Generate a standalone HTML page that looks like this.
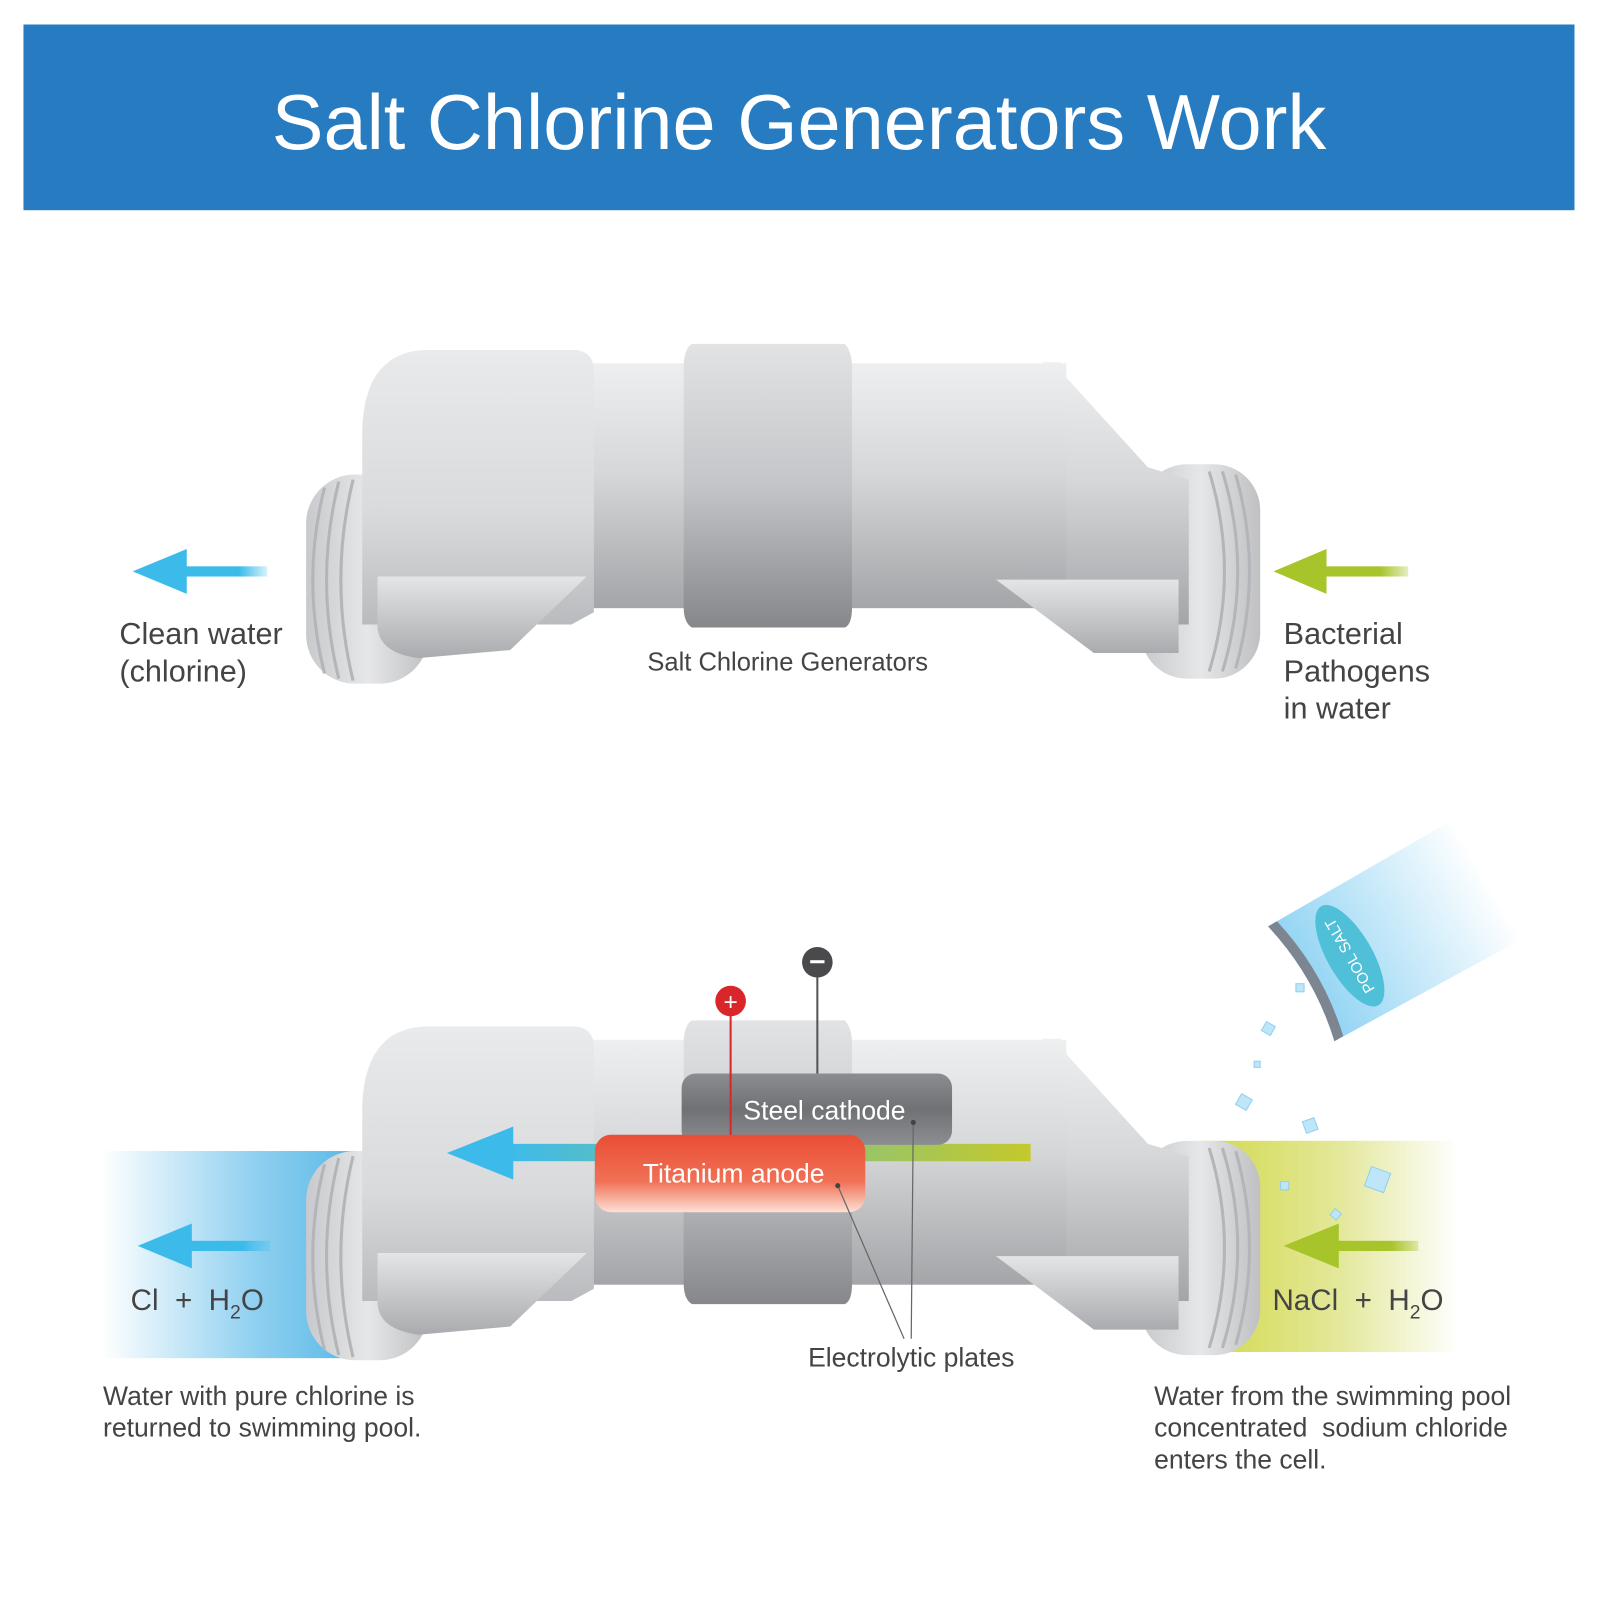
<!DOCTYPE html>
<html><head><meta charset="utf-8"><style>
html,body{margin:0;padding:0;background:#fff}
svg{display:block}
text{font-family:"Liberation Sans",Arial,sans-serif}
</style></head><body>
<svg width="1600" height="1600" viewBox="0 0 1568 1568" xmlns="http://www.w3.org/2000/svg">
<defs>
<linearGradient id="gCap" x1="0" y1="0" x2="0" y2="1"><stop offset="0" stop-color="#e9eaec"/><stop offset="0.6" stop-color="#d9dadc"/><stop offset="1" stop-color="#b9bbbe"/></linearGradient>
<linearGradient id="gBody" x1="0" y1="0" x2="0" y2="1"><stop offset="0" stop-color="#eeeff0"/><stop offset="0.45" stop-color="#d6d7d9"/><stop offset="1" stop-color="#a3a5a8"/></linearGradient>
<linearGradient id="gBand" x1="0" y1="0" x2="0" y2="1"><stop offset="0" stop-color="#e2e3e5"/><stop offset="0.5" stop-color="#c4c5c8"/><stop offset="1" stop-color="#85878a"/></linearGradient>
<linearGradient id="gFl" x1="0" y1="0" x2="1" y2="0"><stop offset="0" stop-color="#c8c9cc"/><stop offset="0.5" stop-color="#e6e7e8"/><stop offset="1" stop-color="#bfc0c3"/></linearGradient>
<linearGradient id="gFin" x1="0" y1="0" x2="0" y2="1"><stop offset="0" stop-color="#e4e5e6"/><stop offset="1" stop-color="#a9abae"/></linearGradient>
<linearGradient id="gBlueA" x1="0" y1="0" x2="1" y2="0"><stop offset="0" stop-color="#3cbbeb"/><stop offset="0.7" stop-color="#3cbbeb"/><stop offset="1" stop-color="#3cbbeb" stop-opacity="0.2"/></linearGradient>
<linearGradient id="gGreenA" x1="0" y1="0" x2="1" y2="0"><stop offset="0" stop-color="#a7c42b"/><stop offset="0.7" stop-color="#a7c42b"/><stop offset="1" stop-color="#a7c42b" stop-opacity="0.3"/></linearGradient>
<linearGradient id="gBlueBg" x1="0" y1="0" x2="1" y2="0"><stop offset="0" stop-color="#ffffff"/><stop offset="0.6" stop-color="#8fd0f0"/><stop offset="1" stop-color="#5ab8e6"/></linearGradient>
<linearGradient id="gYelBg" x1="0" y1="0" x2="1" y2="0"><stop offset="0" stop-color="#d2d94a"/><stop offset="0.55" stop-color="#e4e89c"/><stop offset="1" stop-color="#ffffff"/></linearGradient>
<linearGradient id="gMix" x1="0" y1="0" x2="1" y2="0"><stop offset="0" stop-color="#3cbbeb"/><stop offset="1" stop-color="#c4c92b"/></linearGradient>
<linearGradient id="gCath" x1="0" y1="0" x2="0" y2="1"><stop offset="0" stop-color="#8b8d90"/><stop offset="0.5" stop-color="#6f7174"/><stop offset="1" stop-color="#8c8e91"/></linearGradient>
<linearGradient id="gAnode" x1="0" y1="0" x2="0" y2="1"><stop offset="0" stop-color="#e94e35"/><stop offset="0.6" stop-color="#f07055"/><stop offset="1" stop-color="#fde0d6"/></linearGradient>
<linearGradient id="gBag" x1="0" y1="0" x2="1" y2="0"><stop offset="0" stop-color="#8fd3f3"/><stop offset="1" stop-color="#ffffff"/></linearGradient>
<g id="pipe">
  <rect x="1118" y="455" width="117" height="210" rx="45" fill="url(#gFl)"/>
  <g stroke="#b3b5b8" stroke-width="3" fill="none">
    <path d="M1185 462 Q1215 560 1185 658"/><path d="M1198 462 Q1228 560 1198 658"/><path d="M1211 465 Q1238 560 1211 655"/>
  </g>
  <path d="M1000 355 L1020 355 Q1035 360 1045 370 L1125 458 L1165 470 L1165 612 L1040 612 L1040 355 Z" fill="url(#gBody)"/>
  <rect x="550" y="356" width="495" height="240" fill="url(#gBody)"/>
  <rect x="300" y="465" width="120" height="205" rx="48" fill="url(#gFl)"/>
  <g stroke="#b3b5b8" stroke-width="3" fill="none">
    <path d="M318 478 Q295 568 318 660"/><path d="M332 472 Q308 568 332 665"/><path d="M346 470 Q322 568 346 667"/>
  </g>
  <path d="M355 612 L355 420 Q358 343 420 343 L565 343 Q580 345 582 360 L582 600 L560 612 Z" fill="url(#gCap)"/>
  <path d="M678 337 L828 337 Q835 345 835 360 L835 595 Q835 612 828 615 L678 615 Q670 610 670 595 L670 360 Q670 342 678 337 Z" fill="url(#gBand)"/>
  <path d="M370 565 L575 565 L500 637 L410 645 Q372 640 370 615 Z" fill="url(#gFin)"/>
  <path d="M976 568 L1155 568 L1155 640 L1072 640 Z" fill="url(#gFin)"/>
</g>
</defs>

<rect x="23" y="24" width="1520" height="182" fill="#277bc1"/>
<text x="783" y="146" font-size="76" fill="#fff" text-anchor="middle">Salt Chlorine Generators Work</text>

<use href="#pipe"/>
<rect x="170" y="555" width="92" height="10" fill="url(#gBlueA)"/>
<polygon points="130,560 183,538 183,582" fill="#3cbbeb"/>
<rect x="1288" y="555" width="92" height="10" fill="url(#gGreenA)"/>
<polygon points="1248,560 1300,538 1300,582" fill="#a7c42b"/>
<text x="117" y="631" font-size="30" fill="#444">Clean water</text>
<text x="117" y="668" font-size="30" fill="#444">(chlorine)</text>
<text x="772" y="657" font-size="25" fill="#444" text-anchor="middle">Salt Chlorine Generators</text>
<text x="1258" y="631" font-size="30" fill="#444">Bacterial</text>
<text x="1258" y="668" font-size="30" fill="#444">Pathogens</text>
<text x="1258" y="704" font-size="30" fill="#444">in water</text>

<rect x="100" y="1128" width="250" height="203" fill="url(#gBlueBg)"/>
<rect x="1175" y="1118" width="255" height="207" fill="url(#gYelBg)"/>
<use href="#pipe" transform="translate(0,663)"/>
<rect x="495" y="1121" width="515" height="17" fill="url(#gMix)"/>
<polygon points="438,1130 503,1104 503,1156" fill="#3cbbeb"/>
<rect x="668" y="1052" width="265" height="70" rx="14" fill="url(#gCath)"/>
<text x="808" y="1097" font-size="26" fill="#fff" text-anchor="middle">Steel cathode</text>
<rect x="583" y="1112" width="265" height="76" rx="16" fill="url(#gAnode)"/>
<text x="719" y="1159" font-size="26" fill="#fff" text-anchor="middle">Titanium anode</text>
<line x1="716" y1="981" x2="716" y2="1112" stroke="#d9262a" stroke-width="2"/>
<circle cx="716" cy="981" r="15" fill="#d9262a"/>
<text x="716" y="990" font-size="24" fill="#fff" text-anchor="middle">+</text>
<line x1="801" y1="943" x2="801" y2="1052" stroke="#555" stroke-width="2"/>
<circle cx="801" cy="943" r="15" fill="#4a4a4c"/>
<rect x="794" y="941" width="14" height="3" fill="#fff"/>
<g stroke="#666" stroke-width="1.2">
<line x1="895" y1="1100" x2="893" y2="1312"/><line x1="821" y1="1162" x2="886" y2="1312"/>
</g>
<circle cx="895" cy="1100" r="2.5" fill="#444"/><circle cx="821" cy="1162" r="2.5" fill="#444"/>
<rect x="175" y="1216" width="90" height="10" fill="url(#gBlueA)"/>
<polygon points="135,1221 188,1199 188,1243" fill="#3cbbeb"/>
<rect x="1300" y="1216" width="90" height="10" fill="url(#gGreenA)"/>
<polygon points="1258,1221 1312,1199 1312,1243" fill="#a7c42b"/>
<text x="128" y="1284" font-size="29" fill="#444" xml:space="preserve">Cl  +  H<tspan font-size="19" dy="8">2</tspan><tspan dy="-8">O</tspan></text>
<text x="1247" y="1284" font-size="29" fill="#444" xml:space="preserve">NaCl  +  H<tspan font-size="19" dy="8">2</tspan><tspan dy="-8">O</tspan></text>
<text x="893" y="1339" font-size="26" fill="#444" text-anchor="middle">Electrolytic plates</text>
<text x="101" y="1377" font-size="26" fill="#444">Water with pure chlorine is</text>
<text x="101" y="1408" font-size="26" fill="#444">returned to swimming pool.</text>
<text x="1131" y="1377" font-size="26" fill="#444">Water from the swimming pool</text>
<text x="1131" y="1408" font-size="26" fill="#444" xml:space="preserve">concentrated  sodium chloride</text>
<text x="1131" y="1439" font-size="26" fill="#444">enters the cell.</text>

<g transform="translate(1345,895) rotate(-30)">
  <path d="M-95 -40 L110 -40 Q120 -55 110 -70 L110 75 Q118 90 110 95 L-95 90 Q-80 25 -95 -40 Z" fill="url(#gBag)"/>
  <path d="M-95 -40 Q-80 25 -95 90 L-85 90 Q-70 25 -85 -40 Z" fill="#7c8590"/>
  <ellipse cx="-40" cy="25" rx="22" ry="56" fill="#4fc0d8"/>
  <text x="-40" y="25" font-size="15" fill="#fff" text-anchor="middle" transform="rotate(-90 -40 25) translate(0,5)">POOL SALT</text>
</g>
<g fill="#bfe6f8" stroke="#8fd0ef" stroke-width="1">
<rect x="1238" y="1003" width="10" height="10" transform="rotate(30 1243 1008)"/>
<rect x="1213" y="1074" width="12" height="12" transform="rotate(30 1219 1080)"/>
<rect x="1278" y="1097" width="12" height="12" transform="rotate(-20 1284 1103)"/>
<rect x="1340" y="1146" width="20" height="20" transform="rotate(20 1350 1156)"/>
<rect x="1255" y="1158" width="8" height="8"/>
<rect x="1270" y="964" width="8" height="8"/>
<rect x="1305" y="1186" width="8" height="8" transform="rotate(40 1309 1190)"/>
<rect x="1229" y="1040" width="6" height="6"/>
</g>
</svg>
</body></html>
